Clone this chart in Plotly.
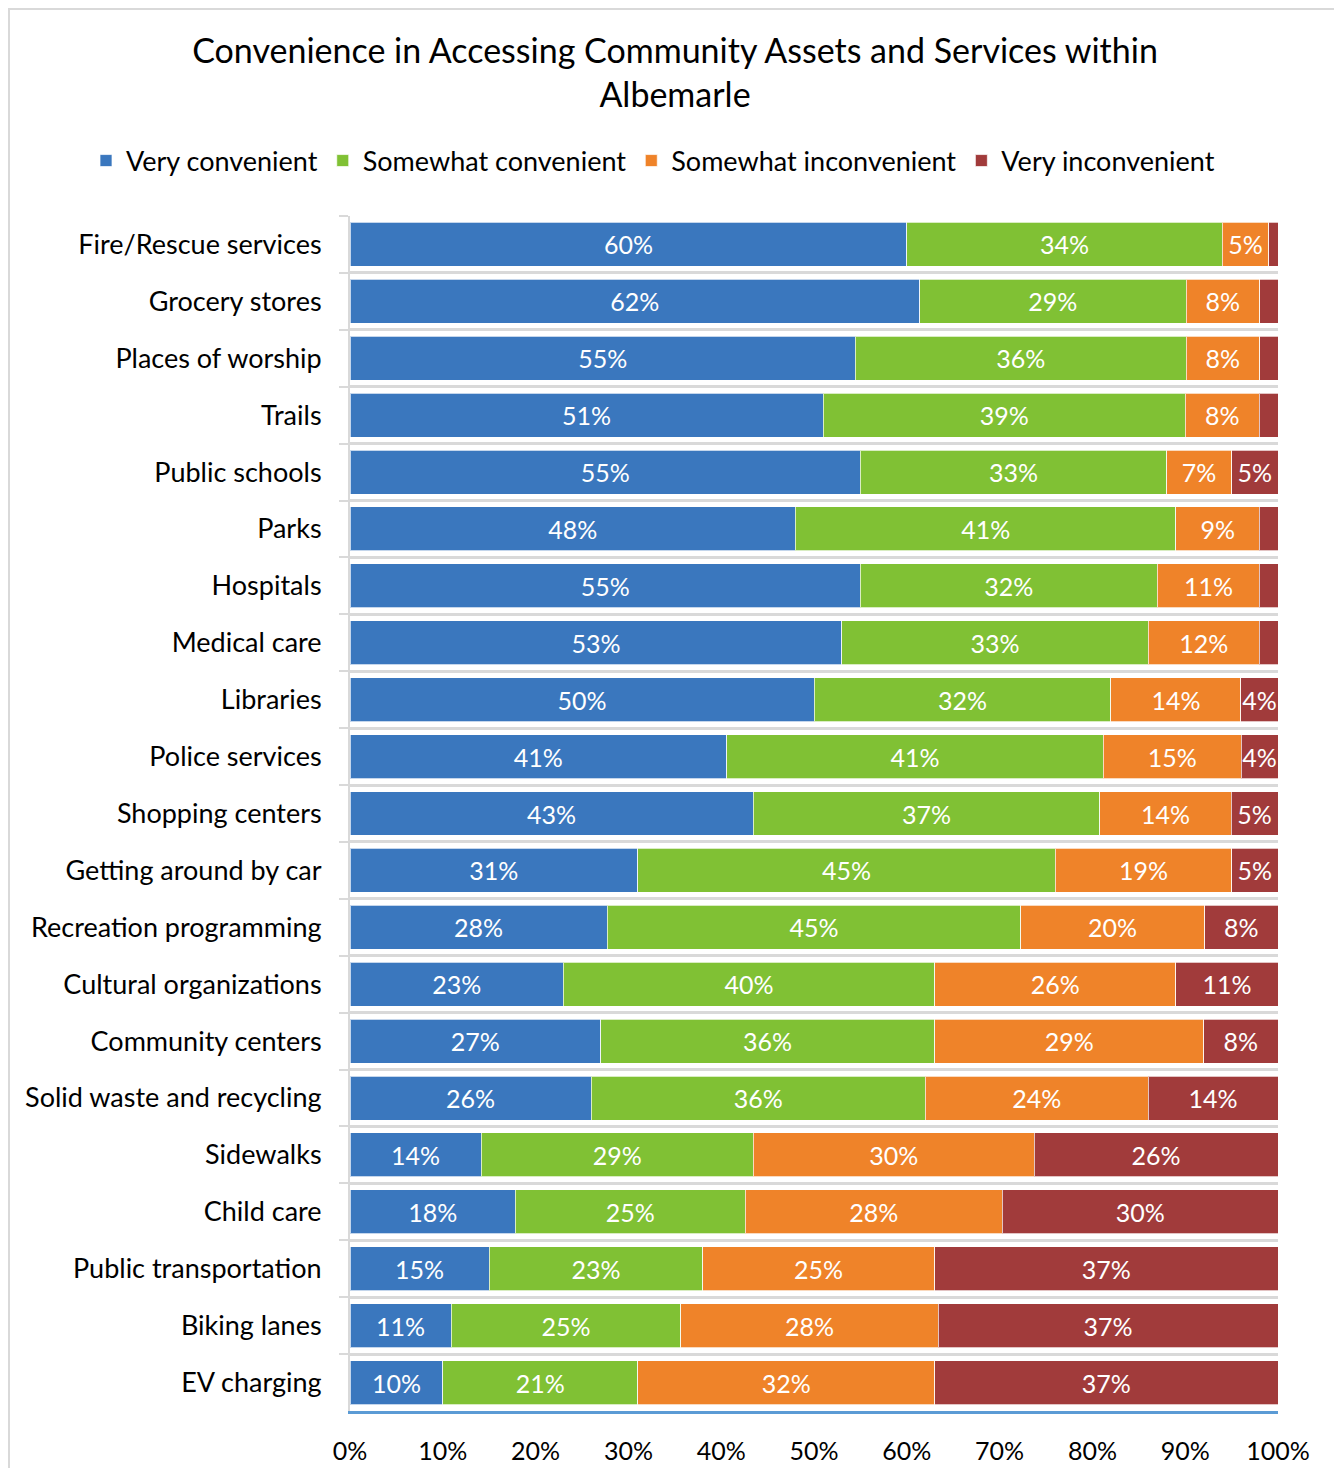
import plotly.graph_objects as go

categories = [
    "Fire/Rescue services", "Grocery stores", "Places of worship", "Trails",
    "Public schools", "Parks", "Hospitals", "Medical care", "Libraries",
    "Police services", "Shopping centers", "Getting around by car",
    "Recreation programming", "Cultural organizations", "Community centers",
    "Solid waste and recycling", "Sidewalks", "Child care",
    "Public transportation", "Biking lanes", "EV charging",
]

very_convenient = [60, 62, 55, 51, 55, 48, 55, 53, 50, 41, 43, 31, 28, 23, 27, 26, 14, 18, 15, 11, 10]
somewhat_convenient = [34, 29, 36, 39, 33, 41, 32, 33, 32, 41, 37, 45, 45, 40, 36, 36, 29, 25, 23, 25, 21]
somewhat_inconvenient = [5, 8, 8, 8, 7, 9, 11, 12, 14, 15, 14, 19, 20, 26, 29, 24, 30, 28, 25, 28, 32]
very_inconvenient = [1, 2, 2, 2, 5, 2, 2, 2, 4, 4, 5, 5, 8, 11, 8, 14, 26, 30, 37, 37, 37]

series_names = ["Very convenient", "Somewhat convenient", "Somewhat inconvenient", "Very inconvenient"]
series_values = [very_convenient, somewhat_convenient, somewhat_inconvenient, very_inconvenient]
colors = ["#3A77BE", "#80C134", "#EF8329", "#A13B3B"]

FONT = "Lato, Carlito, Calibri, sans-serif"

W, H = 1334, 1460
L, R, T, B = 342, 64, 208, 57
PW, PH = W - L - R, H - T - B

fig = go.Figure()
for name, vals, col in zip(series_names, series_values, colors):
    fig.add_trace(go.Bar(
        y=categories, x=vals, name=name, orientation="h",
        marker=dict(color=col, line=dict(color="rgba(255,255,255,0.7)", width=1)),
        text=[f"{v}%" if v >= 3 else "" for v in vals],
        textposition="inside", insidetextanchor="middle", textangle=0,
        constraintext="none",
        textfont=dict(family=FONT, size=25, color="white"),
        hoverinfo="skip",
    ))

fig.update_layout(
    barmode="stack", barnorm="percent", bargap=0.227,
    width=W, height=H,
    paper_bgcolor="white", plot_bgcolor="white",
    margin=dict(l=L, r=R, t=T, b=B, autoexpand=False),
    font=dict(family=FONT, color="#000000"),
    title=dict(
        text="Convenience in Accessing Community Assets and Services within<br>Albemarle",
        x=0.5, xref="container", xanchor="center",
        y=1 - 55 / H, yref="container", yanchor="top",
        font=dict(family=FONT, size=34, color="#000000"),
    ),
    legend=dict(
        orientation="h", x=(78 - L) / PW, xref="paper", xanchor="left",
        y=1 + (T - 153) / PH, yref="paper", yanchor="middle",
        font=dict(family=FONT, size=27, color="#000000"),
        traceorder="normal", itemwidth=30,
    ),
    showlegend=True,
)

fig.update_xaxes(
    range=[0, 100], tickvals=[0, 10, 20, 30, 40, 50, 60, 70, 80, 90, 100],
    ticktext=[f"{v}%" for v in range(0, 101, 10)],
    showgrid=False, zeroline=False,
    showline=True, linecolor="#5B9BD5", linewidth=3,
    ticks="", ticklabelstandoff=16,
    tickfont=dict(family=FONT, size=25, color="#000000"),
)
fig.update_yaxes(
    autorange="reversed", tickson="boundaries",
    showgrid=True, gridcolor="#D9D9D9", gridwidth=3,
    showline=True, linecolor="#D9D9D9", linewidth=2,
    ticks="outside", ticklen=9, tickcolor="#D9D9D9", tickwidth=2,
    ticklabelstandoff=21,
    tickfont=dict(family=FONT, size=27, color="#000000"),
)

# outer chart border
fig.add_shape(type="rect", xref="paper", yref="paper",
              x0=(1 - L) / PW, x1=(1331 - L) / PW,
              y0=-(B + 20) / PH, y1=(PH + T - 1) / PH,
              line=dict(color="#D9D9D9", width=2), fillcolor="rgba(0,0,0,0)",
              layer="below")

fig.write_html("out.html")
